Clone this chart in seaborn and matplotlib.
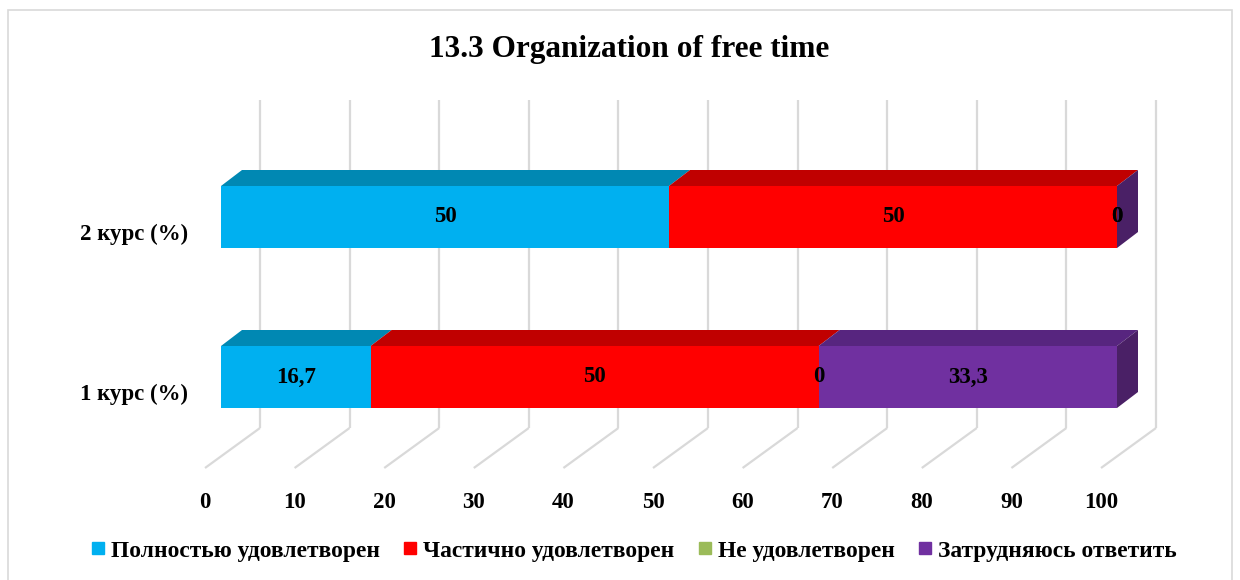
import numpy as np
import pandas as pd
import matplotlib
matplotlib.use("Agg")
import matplotlib.pyplot as plt
import seaborn as sns
from matplotlib.patches import Polygon, Rectangle
from matplotlib.lines import Line2D
from matplotlib.transforms import ScaledTranslation

# ---------------- data ----------------
categories = ["2 курс (%)", "1 курс (%)"]
series_names = ["Полностью удовлетворен", "Частично удовлетворен",
                "Не удовлетворен", "Затрудняюсь ответить"]
full_sat = [50, 16.7]
part_sat = [50, 50]
not_sat = [0, 0]
hard_say = [0, 33.3]
x_ticks = [0, 10, 20, 30, 40, 50, 60, 70, 80, 90, 100]
title = "13.3 Organization of free time"

series = [full_sat, part_sat, not_sat, hard_say]
front_colors = ["#00B0F0", "#FF0000", "#9BBB59", "#7030A0"]
top_colors = ["#0088B3", "#C00000", "#6E9E3A", "#57257F"]
side_colors = ["#0078A0", "#A00000", "#5E8A30", "#4A2066"]

sns.set_theme(style="white")
plt.rcParams['font.family'] = ['Liberation Serif', 'DejaVu Serif']
plt.rcParams['text.color'] = 'black'
plt.rcParams['xtick.color'] = 'black'
plt.rcParams['ytick.color'] = 'black'
plt.rcParams['axes.labelcolor'] = 'black'

W, H = 1240, 580
fig = plt.figure(figsize=(W / 100, H / 100), dpi=100)
fig.patch.set_facecolor("white")

# axes: front plane; x=0 at px 221, x=100 at px 1117; top px 100, bottom px 468
ax_l, ax_r, ax_t, ax_b = 221, 1117, 100, 468
ax = fig.add_axes([ax_l / W, (H - ax_b) / H, (ax_r - ax_l) / W, (ax_b - ax_t) / H])

px_x = (ax_r - ax_l) / 100.0          # pixels per x unit
px_y = 160.0                           # pixels per category step
y_top = 0 - (217 - ax_t) / px_y
y_bot = 0 + (ax_b - 217) / px_y
bar_h = 62 / px_y

# stacked bars drawn as cumulative totals (back to front)
cum = np.cumsum(np.array(series, dtype=float), axis=0)
for i in reversed(range(len(series))):
    df = pd.DataFrame({"cat": categories, "val": cum[i]})
    sns.barplot(data=df, x="val", y="cat", order=categories, orient="h",
                color=front_colors[i], saturation=1, width=bar_h,
                linewidth=0, ax=ax, zorder=3)

ax.set_xlim(0, 100)
ax.set_ylim(y_bot, y_top)

# 3D depth of the bars
ddx = 21 / px_x
ddy = 16 / px_y
for j, cat in enumerate(categories):
    yt = j - bar_h / 2
    yb = j + bar_h / 2
    left = 0.0
    for i in range(len(series)):
        w = series[i][j]
        if w > 0:
            poly = Polygon([(left, yt), (left + w, yt), (left + w + ddx, yt - ddy),
                            (left + ddx, yt - ddy)], closed=True,
                           facecolor=top_colors[i], edgecolor="none",
                           zorder=2.5, clip_on=False)
            ax.add_patch(poly)
        left += w
    side = Polygon([(left, yt), (left + ddx, yt - ddy), (left + ddx, yb - ddy),
                    (left, yb)], closed=True, facecolor=side_colors[-1],
                   edgecolor="none", zorder=2.5, clip_on=False)
    ax.add_patch(side)

# value labels
for j, cat in enumerate(categories):
    left = 0.0
    for i in range(len(series)):
        w = series[i][j]
        txt = f"{w:g}".replace(".", ",")
        ax.text(left + w / 2, j, txt, ha="center", va="center",
                fontsize=16.5, fontweight="bold", color="black", zorder=5,
                clip_on=False)
        left += w

# gridlines: back wall + floor
back_dx = 39 / px_x
floor_back_y = 1 + (428 - 377) / px_y
front_dx = -16 / px_x
grid_c = "#D9D9D9"
for v in x_ticks:
    ax.plot([v + back_dx, v + back_dx], [y_top, floor_back_y], color=grid_c,
            lw=1.6, zorder=0.5, clip_on=False, solid_capstyle="butt")
    ax.plot([v + back_dx, v + front_dx], [floor_back_y, y_bot], color=grid_c,
            lw=1.6, zorder=0.5, clip_on=False, solid_capstyle="butt")

for s in ax.spines.values():
    s.set_visible(False)
ax.set_xlabel("")
ax.set_ylabel("")
ax.set_xticks(x_ticks)
ax.set_xticklabels([str(v) for v in x_ticks], fontsize=16.5, fontweight="bold")
ax.tick_params(axis="x", length=0, pad=17)
ax.tick_params(axis="y", length=0, pad=24)
for lab in ax.get_yticklabels():
    lab.set_fontsize(16.5)
    lab.set_fontweight("bold")
    lab.set_transform(lab.get_transform() + ScaledTranslation(0, -15 / 100, fig.dpi_scale_trans))
for lab in ax.get_xticklabels():
    lab.set_transform(lab.get_transform() + ScaledTranslation(-16 / 100, 0, fig.dpi_scale_trans))
ax.grid(False)
ax.set_facecolor("none")

# title
fig.text(629 / W, 1 - 50 / H, title, ha="center", va="center",
         fontsize=22.5, fontweight="bold")

# legend
handles = [Line2D([], [], marker="s", ls="", color=c, markersize=8) for c in front_colors]
fig.legend(handles, series_names, loc="center", bbox_to_anchor=(634 / W, 1 - 551 / H),
           ncol=4, frameon=False, handlelength=0.6, handletextpad=0.25,
           columnspacing=1.0, prop={"size": 16.9, "weight": "bold"})

# outer frame
fig.patches.append(Rectangle((8 / W, -0.05), (1232 - 8) / W, 1.05 - 10 / H,
                             transform=fig.transFigure, fill=False,
                             edgecolor="#D9D9D9", lw=1.2))

fig.savefig("out.png", dpi=100)
